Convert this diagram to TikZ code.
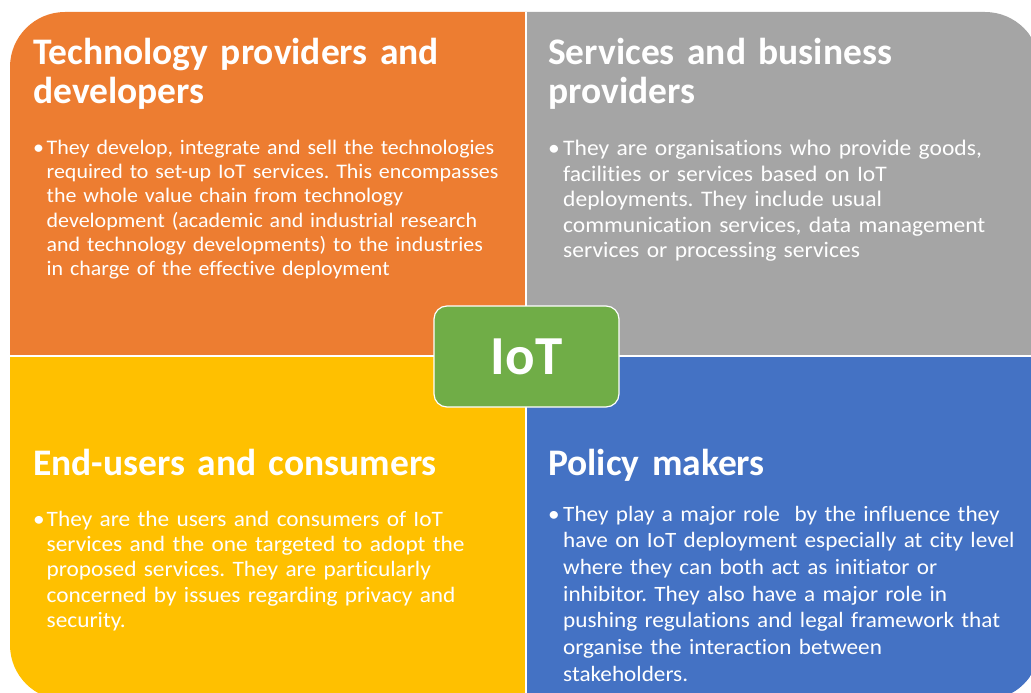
\documentclass[tikz,border=0pt]{standalone}
\usepackage{fontspec}
\setmainfont[Ligatures=NoCommon]{Carlito}
\newfontfamily\bodyfont[FakeStretch=1.06,Ligatures=NoCommon]{Carlito}
\definecolor{qorange}{HTML}{ED7D31}
\definecolor{qgray}{HTML}{A5A5A5}
\definecolor{qyellow}{HTML}{FFC000}
\definecolor{qblue}{HTML}{4472C4}
\definecolor{qgreen}{HTML}{70AD47}
% bullet paragraph with a hanging indent (lines broken with \newline)
\newcommand{\bulletpar}[2]{\frenchspacing\hangindent=#1\hangafter=1\makebox[#1][l]{\textbullet}#2\par}
\begin{document}
\begin{tikzpicture}[x=1pt,y=-1pt,
  heading/.style={anchor=base west, inner sep=0pt, text=white, align=left,
    text width=490pt, font=\fontsize{37.5}{39.5}\selectfont\bfseries},
  bodytext/.style={anchor=base west, inner sep=0pt, text=white, align=left,
    text width=490pt},
  centrebox/.style={draw=white, line width=1.2pt, fill=qgreen, rounded corners=13pt,
    minimum width=185pt, minimum height=101pt, inner sep=0pt, text=white,
    font=\fontsize{55}{55}\selectfont\bfseries},
]
\useasboundingbox (0,0) rectangle (1031,693);
\clip (0,0) rectangle (1031,693);

% four quadrants inside one rounded outline
\begin{scope}
  \clip[rounded corners=55pt] (10,12) rectangle (1040,700);
  \fill[qorange] (0,0) rectangle (526,356);
  \fill[qgray] (526,0) rectangle (1040,356);
  \fill[qyellow] (0,356) rectangle (526,700);
  \fill[qblue] (526,356) rectangle (1040,700);
  \draw[white, line width=1.5pt] (526,0) -- (526,700);
  \draw[white, line width=1.5pt] (0,356) -- (1040,356);
\end{scope}

% top left
\node[heading] (h1) at (33,64.5) {Technology providers and\\developers};
\node[bodytext, font=\bodyfont\fontsize{20.7}{24.2}\selectfont] (t1) at (33,154.5) {\bulletpar{13.5pt}{They develop, integrate and sell the technologies\newline
required to set-up IoT services. This encompasses\newline
the whole value chain from technology\newline
development (academic and industrial research\newline
and technology developments) to the industries\newline
in charge of the effective deployment}};

% top right
\node[heading] (h2) at (548,64.5) {Services and business\\providers};
\node[bodytext, font=\bodyfont\fontsize{22.2}{25.6}\selectfont] (t2) at (548,155.5) {\bulletpar{15pt}{They are organisations who provide goods,\newline
facilities or services based on IoT\newline
deployments. They include usual\newline
communication services, data management\newline
services or processing services}};

% bottom left
\node[heading] (h3) at (33,475) {End-users and consumers};
\node[bodytext, font=\bodyfont\fontsize{22}{25.4}\selectfont] (t3) at (33,526) {\bulletpar{13.5pt}{They are the users and consumers of IoT\newline
services and the one targeted to adopt the\newline
proposed services. They are particularly\newline
concerned by issues regarding privacy and\newline
security.}};

% bottom right
\node[heading] (h4) at (548,475) {Policy makers};
\node[bodytext, font=\bodyfont\fontsize{21.9}{26.7}\selectfont] (t4) at (548,521) {\bulletpar{15pt}{They play a major role\ \ by the influence they\newline
have on IoT deployment especially at city level\newline
where they can both act as initiator or\newline
inhibitor. They also have a major role in\newline
pushing regulations and legal framework that\newline
organise the interaction between\newline
stakeholders.}};

% centre label
\node[centrebox] (iot) at (526.5,356.5) {IoT};
\end{tikzpicture}
\end{document}
